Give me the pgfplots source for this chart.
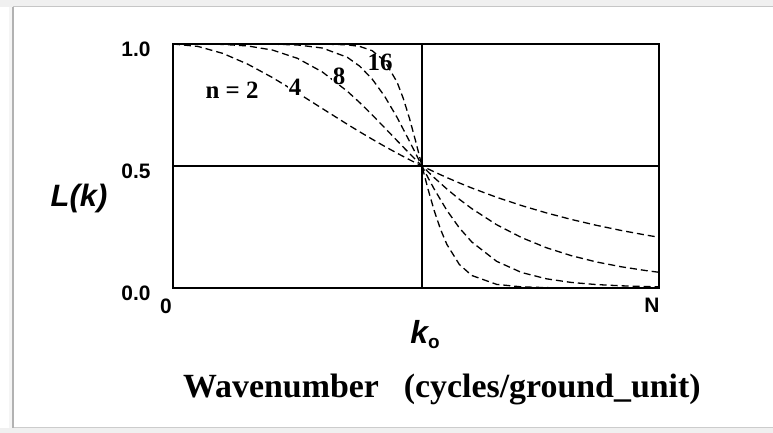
\documentclass[border=0pt]{standalone}
\usepackage{pgfplots}
\pgfplotsset{compat=1.18}
\usepackage{fontspec}
\setmainfont{Liberation Serif}
\setsansfont{Liberation Sans}

% Butterworth low-pass responses L(k) = 1/(1+(k/k_o)^n); x is k/k_o, N sits at 1.952
\begin{document}
\begin{tikzpicture}
\path[use as bounding box] (0bp,0bp) rectangle (773bp,433bp);
% picture frame with a soft edge
\fill[gray!12] (0bp,426bp) rectangle (773bp,433bp);
\draw[gray!45, line width=1bp] (13bp,426bp) -- (773bp,426bp);
\fill[gray!12] (0bp,0bp) rectangle (773bp,5bp);
\draw[gray!40, line width=1bp] (13bp,5bp) -- (773bp,5bp);
\fill[gray!8] (9bp,5bp) rectangle (13bp,426bp);
\draw[gray!60, line width=2bp] (13bp,5bp) -- (13bp,426bp);

\begin{axis}[
  at={(173bp,145bp)}, anchor=south west,
  scale only axis, width=486bp, height=244bp,
  xmin=0, xmax=1.952, ymin=0, ymax=1,
  axis line style={line width=1.6bp},
  major tick length=0pt,
  xtick={0,1.952}, xticklabels={0,N},
  ytick={0,0.5,1}, yticklabels={0.0,0.5,1.0},
  /pgf/number format/assume math mode=true,
  tick label style={font=\fontsize{21}{21}\selectfont\sffamily\bfseries},
  yticklabel style={anchor=east, xshift=-19bp, yshift=-5bp},
  xticklabel style={anchor=north, xshift=-7bp, yshift=-7bp},
  clip=true,
]
% reference lines at k = k_o and L = 0.5
\addplot[black, line width=1.6bp] coordinates {(1,0) (1,1)};
\addplot[black, line width=1.6bp] coordinates {(0,0.5) (1.952,0.5)};

\pgfplotsset{curve/.style={black, line width=1.3bp, dash pattern=on 7bp off 4bp, mark=none}}
% n = 2
\addplot[curve] coordinates {
(0,1) (0.1,0.9901) (0.2,0.9615) (0.3,0.9174) (0.4,0.8621) (0.5,0.8)
(0.6,0.7353) (0.7,0.6711) (0.75,0.6400) (0.8,0.6098) (0.85,0.5806)
(0.9,0.5525) (0.95,0.5256) (1,0.5) (1.05,0.4756) (1.1,0.4525)
(1.15,0.4306) (1.2,0.4098) (1.3,0.3717) (1.4,0.3378) (1.5,0.3077)
(1.6,0.2809) (1.7,0.2571) (1.8,0.2358) (1.9,0.2169) (1.952,0.2079)};
% n = 4
\addplot[curve] coordinates {
(0,1) (0.1,0.9999) (0.2,0.9984) (0.3,0.9920) (0.4,0.9750) (0.5,0.9412)
(0.6,0.8853) (0.7,0.8064) (0.75,0.7597) (0.8,0.7094) (0.85,0.6570)
(0.9,0.6038) (0.95,0.5511) (1,0.5) (1.05,0.4514) (1.1,0.4058)
(1.15,0.3637) (1.2,0.3254) (1.3,0.2593) (1.4,0.2066) (1.5,0.1649)
(1.6,0.1324) (1.7,0.1069) (1.8,0.0870) (1.9,0.0713) (1.952,0.0644)};
% n = 8
\addplot[curve] coordinates {
(0,1) (0.3,0.9999) (0.4,0.9993) (0.5,0.9961) (0.6,0.9835) (0.7,0.9455)
(0.75,0.9090) (0.8,0.8563) (0.85,0.7859) (0.9,0.6991) (0.95,0.6012)
(0.975,0.5505) (1,0.5) (1.025,0.4508) (1.05,0.4037) (1.1,0.3182)
(1.15,0.2464) (1.2,0.1887) (1.3,0.1092) (1.4,0.0635) (1.5,0.0376)
(1.6,0.0227) (1.7,0.0141) (1.8,0.0090) (1.9,0.0059) (1.952,0.0047)};
% n = 16
\addplot[curve] coordinates {
(0,1) (0.5,1.0) (0.6,0.9997) (0.7,0.9967) (0.75,0.9901) (0.8,0.9726)
(0.85,0.9309) (0.9,0.8437) (0.925,0.7768) (0.95,0.6944) (0.975,0.5999)
(1,0.5) (1.025,0.4025) (1.05,0.3142) (1.075,0.2392) (1.1,0.1787)
(1.15,0.0965) (1.2,0.0513) (1.3,0.0148) (1.4,0.0046) (1.5,0.0015)
(1.6,0.0005) (1.7,0.0001) (1.952,0.0)};
\end{axis}

% curve labels
\begin{scope}[every node/.style={font=\fontsize{25}{25}\selectfont\bfseries, inner sep=0pt}]
\node at (232bp,343bp) {n = 2};
\node[fill=white, inner sep=1bp] at (295bp,346bp) {4};
\node[fill=white, inner sep=1bp] at (339bp,357bp) {8};
\node at (380bp,371bp) {16};
\end{scope}

% axis titles
\node[font=\fontsize{31}{31}\selectfont\sffamily\bfseries\itshape] at (79bp,234bp) {L(k)};
\node[font=\fontsize{32}{32}\selectfont\sffamily\bfseries\itshape, inner sep=0pt] at (425bp,98bp)
  {k\raisebox{-5bp}{\fontsize{19}{19}\selectfont\upshape o}};
\node[anchor=base west, inner sep=0pt, font=\fontsize{34}{34}\selectfont\bfseries] at (183bp,36bp)
  {Wavenumber\hspace{25bp}(cycles/ground\_unit)};
\end{tikzpicture}
\end{document}
